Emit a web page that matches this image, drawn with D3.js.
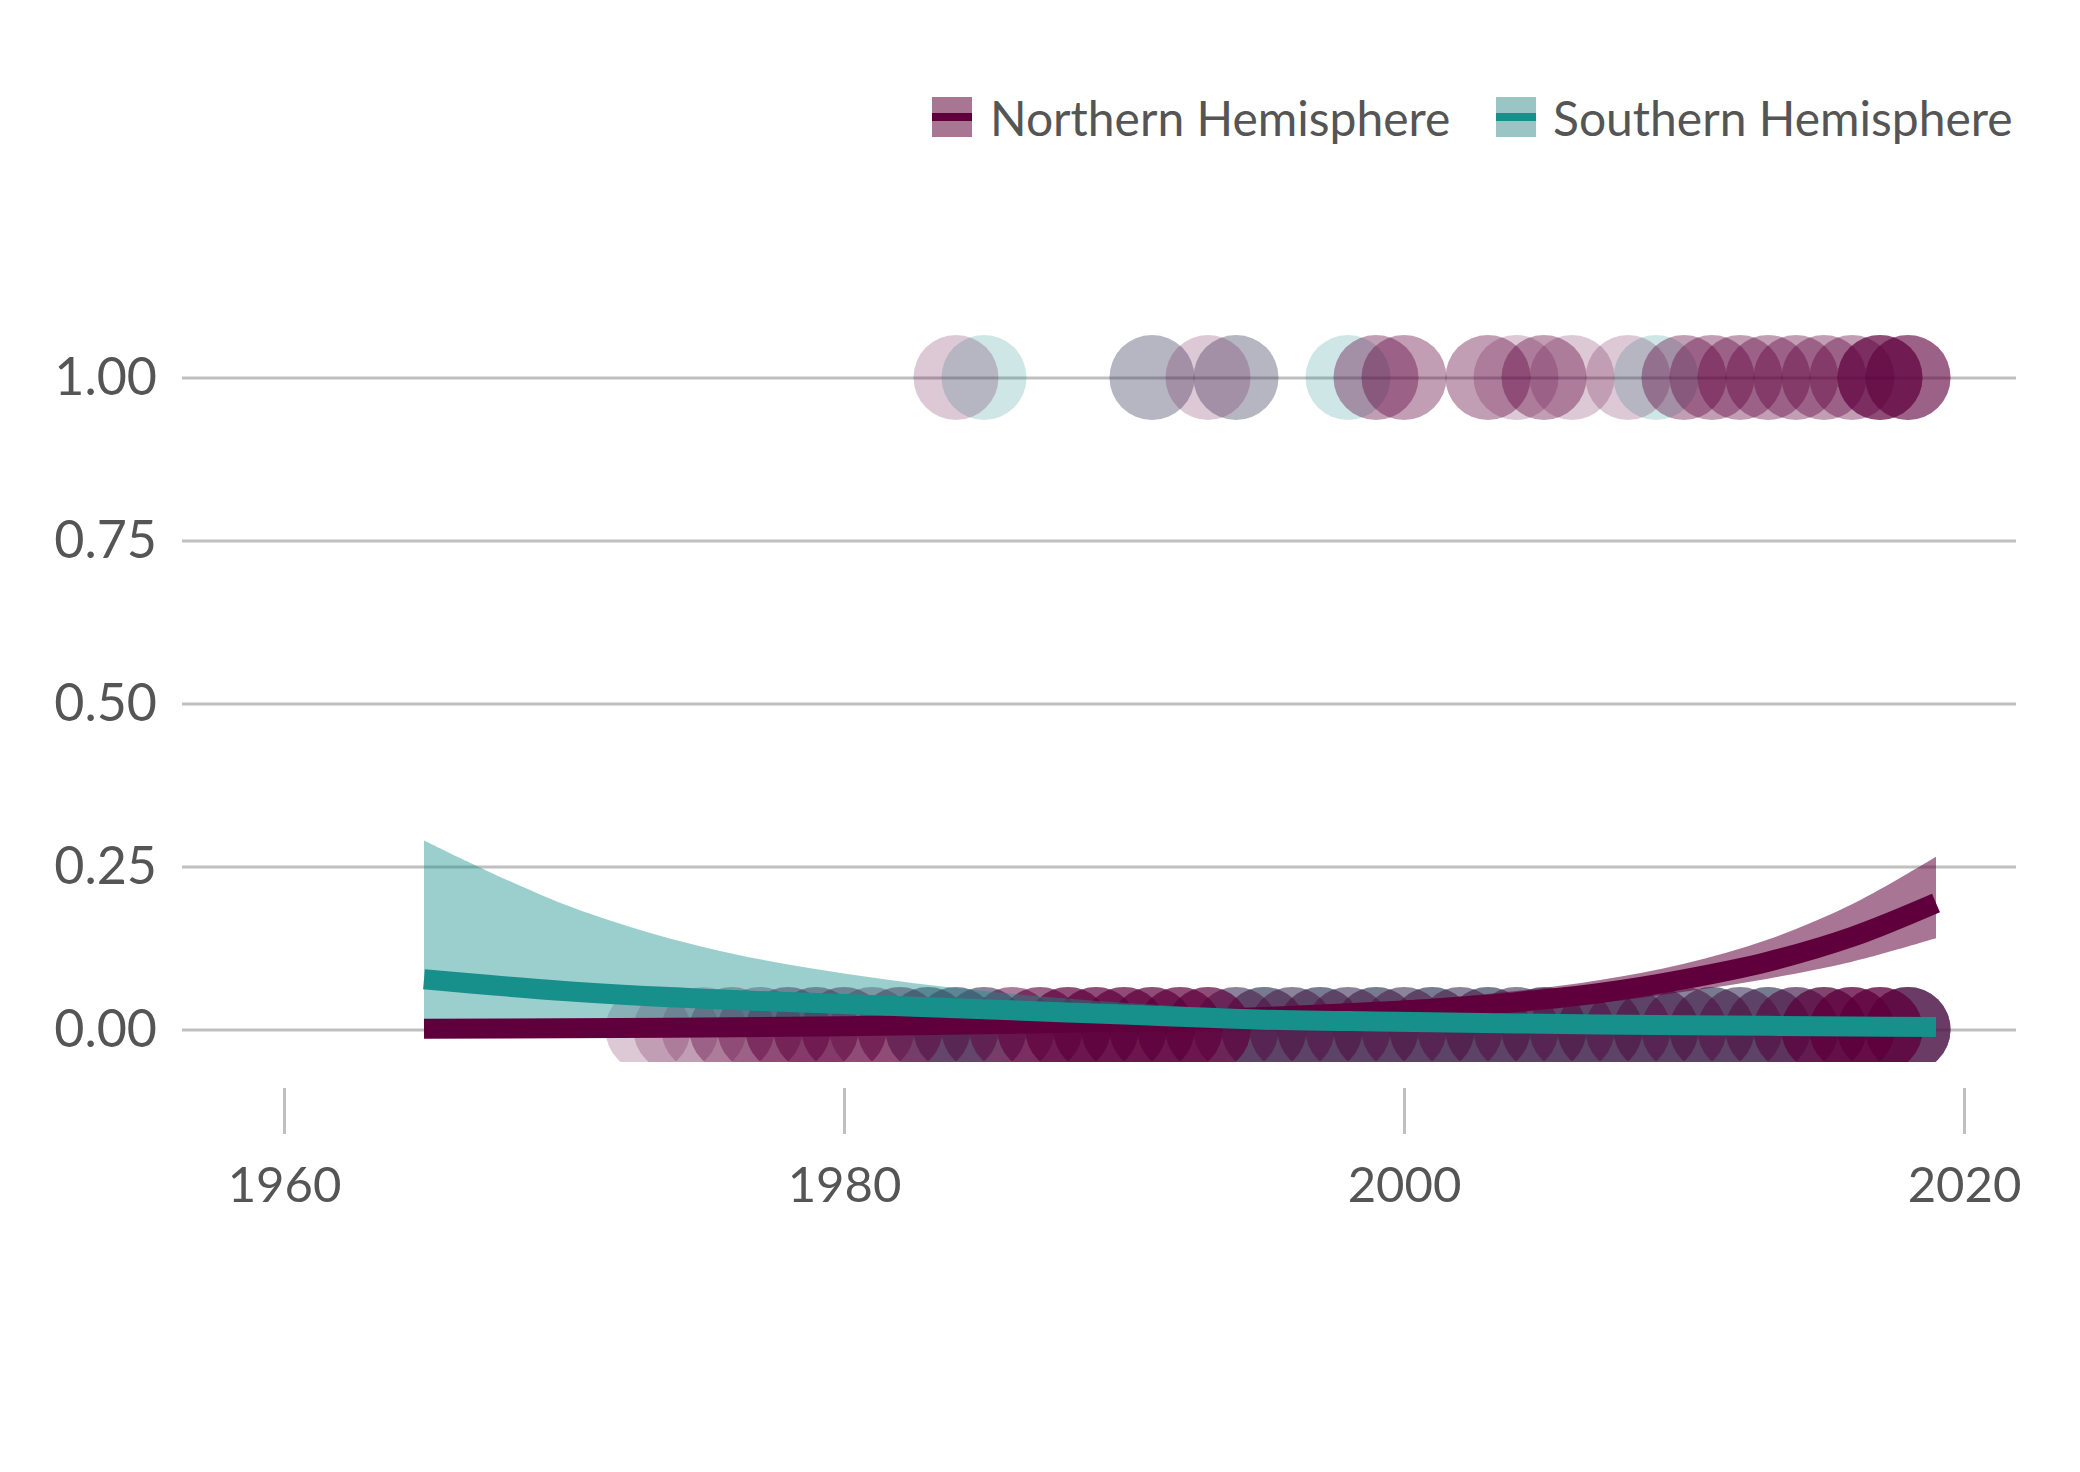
<!DOCTYPE html>
<html>
<head>
<meta charset="utf-8">
<script src="https://cdn.jsdelivr.net/npm/d3@7/dist/d3.min.js"></script>
<style>
  html, body { margin: 0; padding: 0; background: #ffffff; }
  svg { display: block; }
  text { font-family: Lato, "Open Sans", sans-serif; }
</style>
</head>
<body>
<svg id="chart" width="2080" height="1472"></svg>
<script>
// ---------------- data ----------------
const seriesNames = ["Northern Hemisphere", "Southern Hemisphere"];

// points at outcome = 1 (year, number of overlapping records)
const topYearsN  = [1984, 1991, 1993, 1994, 1999, 2000, 2003, 2004, 2005, 2006, 2008, 2010, 2011, 2012, 2013, 2014, 2015, 2016, 2017, 2018];
const topCountsN = [1,    1,    1,    1,    2,    2,    2,    1,    2,    1,    1,    2,    2,    2,    2,    2,    2,    2,    5,    4];
const topYearsS  = [1985, 1991, 1994, 1998, 2009];
const topCountsS = [1,    1,    1,    1,    1];

// points at outcome = 0
const botYears   = [1973,1974,1975,1976,1977,1978,1979,1980,1981,1982,1983,1984,1985,1986,1987,1988,1989,1990,1991,1992,1993,1994,1995,1996,1997,1998,1999,2000,2001,2002,2003,2004,2005,2006,2007,2008,2009,2010,2011,2012,2013,2014,2015,2016,2017,2018];
const botCountsN = [1,   1,   1,   2,   2,   3,   3,   3,   2,   3,   2,   2,   2,   3,   4,   5,   5,   5,   5,   5,   5,   2,   2,   2,   2,   2,   2,   2,   2,   2,   2,   2,   2,   2,   2,   2,   2,   2,   2,   2,   2,   3,   5,   6,   6,   5];
const botCountsS = [0,   0,   0,   0,   0,   0,   0,   0,   0,   0,   2,   2,   2,   0,   0,   0,   0,   0,   0,   0,   0,   2,   3,   2,   3,   2,   3,   2,   3,   2,   3,   2,   3,   2,   3,   2,   3,   2,   3,   2,   3,   2,   1,   0,   0,   3];

// fitted logistic curves
const fitYears = [1965, 1970, 1975, 1980, 1985, 1990, 1995, 1998, 2001, 2004, 2007, 2010, 2013, 2016, 2019];
const fitN     = [0.001, 0.002, 0.003, 0.005, 0.008, 0.012, 0.019, 0.025, 0.032, 0.042, 0.056, 0.077, 0.104, 0.142, 0.194];
const loN      = [0.0002,0.0004,0.0008,0.0015,0.003, 0.005, 0.010, 0.015, 0.021, 0.030, 0.041, 0.058, 0.078, 0.104, 0.140];
const hiN      = [0.005, 0.007, 0.009, 0.012, 0.016, 0.022, 0.031, 0.038, 0.047, 0.059, 0.076, 0.101, 0.138, 0.192, 0.265];
const fitS     = [0.077, 0.059, 0.047, 0.039, 0.031, 0.023, 0.015, 0.013, 0.011, 0.0092,0.0078,0.0066,0.0056,0.0047,0.004];
const loS      = [0.012, 0.012, 0.012, 0.012, 0.011, 0.010, 0.008, 0.007, 0.006, 0.005, 0.004, 0.003, 0.002, 0.0015,0.001];
const hiS      = [0.290, 0.192, 0.126, 0.086, 0.059, 0.041, 0.029, 0.024, 0.020, 0.018, 0.016, 0.015, 0.014, 0.013, 0.013];

const xTicks = [1960, 1980, 2000, 2020];
const yTicks = [0, 0.25, 0.5, 0.75, 1];

// ---------------- style ----------------
const colN = "#5f003c", colS = "#178f8b";
const ribN = "#a87592", ribS = "#9bc5c4";
const gridCol = "#bfbfbf", textCol = "#555555";

const svg = d3.select("#chart");
svg.append("rect").attr("width", 2080).attr("height", 1472).attr("fill", "#fff");

const x = d3.scaleLinear().domain([1960, 2020]).range([284, 1964]);
const y = d3.scaleLinear().domain([0, 1]).range([1029.5, 377.4]);
const gridLeft = 182, gridRight = 2016;
const panelBottom = y(-0.05);

// clip for panel
svg.append("defs").append("clipPath").attr("id", "panel")
  .append("rect").attr("x", 0).attr("y", 0).attr("width", 2080).attr("height", panelBottom);

// y axis with gridlines
const yAxis = svg.append("g").attr("transform", `translate(${gridLeft},0)`)
  .call(d3.axisLeft(y).tickValues(yTicks).tickFormat(d3.format(".2f"))
    .tickSize(-(gridRight - gridLeft)).tickPadding(25));
yAxis.select(".domain").remove();
yAxis.selectAll(".tick line").attr("stroke", gridCol).attr("stroke-width", 3);
yAxis.selectAll(".tick text").attr("fill", textCol).attr("font-size", 52)
  .attr("font-family", "Lato, sans-serif");

// x axis
const xAxis = svg.append("g").attr("transform", `translate(0,1088)`)
  .call(d3.axisBottom(x).tickValues(xTicks).tickFormat(d3.format("d"))
    .tickSize(46).tickPadding(33));
xAxis.select(".domain").remove();
xAxis.selectAll(".tick line").attr("stroke", gridCol).attr("stroke-width", 3);
xAxis.selectAll(".tick text").attr("fill", textCol).attr("font-size", 49)
  .attr("font-family", "Lato, sans-serif");

// ---------------- points ----------------
const pts = [];
function addPts(years, counts, value, group) {
  years.forEach((yr, i) => { for (let k = 0; k < counts[i]; k++) pts.push({ year: yr, v: value, g: group }); });
}
addPts(botYears, botCountsS, 0, "S");
addPts(topYearsS, topCountsS, 1, "S");
addPts(botYears, botCountsN, 0, "N");
addPts(topYearsN, topCountsN, 1, "N");

const plot = svg.append("g").attr("clip-path", "url(#panel)");
plot.append("g").selectAll("circle").data(pts).join("circle")
  .attr("cx", d => x(d.year)).attr("cy", d => y(d.v)).attr("r", 42.5)
  .attr("fill", d => d.g === "N" ? colN : colS).attr("fill-opacity", 0.21);

// ---------------- ribbons & lines ----------------
const curve = d3.curveCatmullRom.alpha(0.5);
const area = (lo, hi) => d3.area().curve(curve)
  .x((d, i) => x(fitYears[i])).y0((d, i) => y(lo[i])).y1((d, i) => y(hi[i]));
const line = (v) => d3.line().curve(curve).x((d, i) => x(fitYears[i])).y((d, i) => y(v[i]));

plot.append("path").datum(fitYears).attr("d", area(loN, hiN)).attr("fill", colN).attr("fill-opacity", 0.54);
plot.append("path").datum(fitYears).attr("d", area(loS, hiS)).attr("fill", colS).attr("fill-opacity", 0.43);
plot.append("path").datum(fitYears).attr("d", line(fitN)).attr("fill", "none")
  .attr("stroke", colN).attr("stroke-width", 20);
plot.append("path").datum(fitYears).attr("d", line(fitS)).attr("fill", "none")
  .attr("stroke", colS).attr("stroke-width", 20);

// ---------------- legend ----------------
const legend = [
  { name: seriesNames[0], kx: 932, tx: 990, rib: ribN, col: colN },
  { name: seriesNames[1], kx: 1496, tx: 1553, rib: ribS, col: colS }
];
const lg = svg.append("g");
legend.forEach(l => {
  lg.append("rect").attr("x", l.kx).attr("y", 97).attr("width", 40).attr("height", 40).attr("fill", l.rib);
  lg.append("rect").attr("x", l.kx).attr("y", 113).attr("width", 40).attr("height", 8).attr("fill", l.col);
  lg.append("text").attr("x", l.tx).attr("y", 136).attr("font-size", 48).attr("fill", textCol)
    .text(l.name);
});
</script>
</body>
</html>
